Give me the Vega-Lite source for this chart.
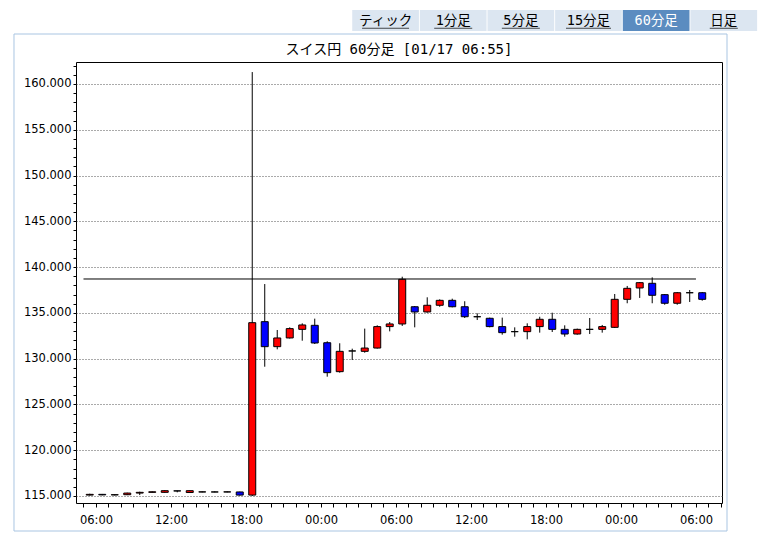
{
  "$schema": "https://vega.github.io/schema/vega-lite/v6.json",
  "width": 646,
  "height": 441,
  "autosize": "none",
  "padding": {"left": 76, "top": 62, "right": 48, "bottom": 41},
  "background": "white",
  "config": {"view": {"stroke": "#000", "strokeWidth": 1}},
  "title": {
    "text": "スイス円 60分足 [01/17 06:55]",
    "font": "DejaVu Sans Mono, Noto Sans CJK JP",
    "fontSize": 14,
    "fontWeight": "normal",
    "color": "#000",
    "anchor": "middle",
    "frame": "group",
    "offset": 5,
    "dy": 52
  },
  "layer": [
    {
      "data": {"values": [{}]},
      "mark": {"type": "rect", "filled": false, "color": "#a9c5e2", "strokeWidth": 1},
      "encoding": {
        "x": {"datum": 0, "type": "quantitative", "scale": {"domain": [0.086957, 0.992987], "nice": false, "zero": false}, "axis": null},
        "x2": {"datum": 1},
        "y": {"datum": 0, "type": "quantitative", "scale": {"domain": [0.056338, 0.943662], "nice": false, "zero": false}, "axis": null},
        "y2": {"datum": 1}
      }
    },
    {
      "data": {"values": [
        {"t": "2015-01-15T05:00", "o": 115.10, "h": 115.25, "l": 115.05, "c": 115.18},
        {"t": "2015-01-15T06:00", "o": 115.18, "h": 115.22, "l": 115.08, "c": 115.12},
        {"t": "2015-01-15T07:00", "o": 115.12, "h": 115.18, "l": 115.06, "c": 115.14},
        {"t": "2015-01-15T08:00", "o": 115.14, "h": 115.36, "l": 115.10, "c": 115.32},
        {"t": "2015-01-15T09:00", "o": 115.32, "h": 115.47, "l": 115.10, "c": 115.40},
        {"t": "2015-01-15T10:00", "o": 115.40, "h": 115.50, "l": 115.38, "c": 115.46},
        {"t": "2015-01-15T11:00", "o": 115.40, "h": 115.62, "l": 115.36, "c": 115.58},
        {"t": "2015-01-15T12:00", "o": 115.56, "h": 115.58, "l": 115.40, "c": 115.55},
        {"t": "2015-01-15T13:00", "o": 115.38, "h": 115.60, "l": 115.35, "c": 115.58},
        {"t": "2015-01-15T14:00", "o": 115.44, "h": 115.50, "l": 115.40, "c": 115.45},
        {"t": "2015-01-15T15:00", "o": 115.44, "h": 115.50, "l": 115.40, "c": 115.44},
        {"t": "2015-01-15T16:00", "o": 115.44, "h": 115.50, "l": 115.40, "c": 115.45},
        {"t": "2015-01-15T17:00", "o": 115.44, "h": 115.47, "l": 115.05, "c": 115.10},
        {"t": "2015-01-15T18:00", "o": 115.10, "h": 161.30, "l": 115.00, "c": 133.93},
        {"t": "2015-01-15T19:00", "o": 134.04, "h": 138.15, "l": 129.12, "c": 131.31},
        {"t": "2015-01-15T20:00", "o": 131.31, "h": 133.13, "l": 131.02, "c": 132.26},
        {"t": "2015-01-15T21:00", "o": 132.26, "h": 133.42, "l": 132.20, "c": 133.28},
        {"t": "2015-01-15T22:00", "o": 133.20, "h": 133.86, "l": 131.96, "c": 133.68},
        {"t": "2015-01-15T23:00", "o": 133.64, "h": 134.37, "l": 131.60, "c": 131.71},
        {"t": "2015-01-16T00:00", "o": 131.74, "h": 131.90, "l": 128.03, "c": 128.47},
        {"t": "2015-01-16T01:00", "o": 128.58, "h": 131.68, "l": 128.47, "c": 130.80},
        {"t": "2015-01-16T02:00", "o": 130.84, "h": 131.09, "l": 129.85, "c": 130.84},
        {"t": "2015-01-16T03:00", "o": 130.80, "h": 133.28, "l": 130.65, "c": 131.16},
        {"t": "2015-01-16T04:00", "o": 131.16, "h": 133.64, "l": 131.10, "c": 133.50},
        {"t": "2015-01-16T05:00", "o": 133.50, "h": 134.00, "l": 132.98, "c": 133.79},
        {"t": "2015-01-16T06:00", "o": 133.79, "h": 138.95, "l": 133.57, "c": 138.67},
        {"t": "2015-01-16T07:00", "o": 135.67, "h": 135.75, "l": 133.42, "c": 135.10},
        {"t": "2015-01-16T08:00", "o": 135.10, "h": 136.70, "l": 135.02, "c": 135.83},
        {"t": "2015-01-16T09:00", "o": 135.83, "h": 136.48, "l": 135.67, "c": 136.37},
        {"t": "2015-01-16T10:00", "o": 136.37, "h": 136.55, "l": 135.60, "c": 135.67},
        {"t": "2015-01-16T11:00", "o": 135.67, "h": 136.27, "l": 134.44, "c": 134.58},
        {"t": "2015-01-16T12:00", "o": 134.58, "h": 134.95, "l": 134.22, "c": 134.58},
        {"t": "2015-01-16T13:00", "o": 134.41, "h": 134.48, "l": 133.42, "c": 133.50},
        {"t": "2015-01-16T14:00", "o": 133.50, "h": 134.48, "l": 132.62, "c": 132.84},
        {"t": "2015-01-16T15:00", "o": 132.95, "h": 133.42, "l": 132.40, "c": 132.95},
        {"t": "2015-01-16T16:00", "o": 132.95, "h": 133.86, "l": 132.11, "c": 133.50},
        {"t": "2015-01-16T17:00", "o": 133.50, "h": 134.58, "l": 132.84, "c": 134.30},
        {"t": "2015-01-16T18:00", "o": 134.30, "h": 135.02, "l": 132.91, "c": 133.20},
        {"t": "2015-01-16T19:00", "o": 133.20, "h": 133.64, "l": 132.40, "c": 132.69},
        {"t": "2015-01-16T20:00", "o": 132.69, "h": 133.28, "l": 132.62, "c": 133.20},
        {"t": "2015-01-16T21:00", "o": 133.20, "h": 134.44, "l": 132.69, "c": 133.20},
        {"t": "2015-01-16T22:00", "o": 133.20, "h": 133.68, "l": 132.84, "c": 133.50},
        {"t": "2015-01-16T23:00", "o": 133.42, "h": 137.06, "l": 133.35, "c": 136.48},
        {"t": "2015-01-17T00:00", "o": 136.48, "h": 137.94, "l": 136.05, "c": 137.68},
        {"t": "2015-01-17T01:00", "o": 137.72, "h": 138.37, "l": 136.63, "c": 138.30},
        {"t": "2015-01-17T02:00", "o": 138.23, "h": 138.88, "l": 136.05, "c": 136.92},
        {"t": "2015-01-17T03:00", "o": 136.99, "h": 137.06, "l": 135.89, "c": 136.05},
        {"t": "2015-01-17T04:00", "o": 136.05, "h": 137.28, "l": 135.89, "c": 137.20},
        {"t": "2015-01-17T05:00", "o": 137.20, "h": 137.50, "l": 136.19, "c": 137.20},
        {"t": "2015-01-17T06:00", "o": 137.20, "h": 137.28, "l": 136.33, "c": 136.48}
      ]},
      "encoding": {
        "x": {
          "field": "t", "type": "temporal",
          "scale": {"domain": [{"year": 2015, "month": 1, "date": 15, "hours": 4, "minutes": 24}, {"year": 2015, "month": 1, "date": 17, "hours": 8, "minutes": 5}], "nice": false, "padding": 0},
          "axis": {
            "orient": "bottom", "title": null,
            "tickCount": 52,
            "labelExpr": "hours(datum.value) % 6 === 0 ? timeFormat(datum.value, '%H:%M') : ''",
            "labelFont": "DejaVu Sans", "labelFontSize": 11.5, "labelColor": "#000",
            "labelPadding": 7, "labelOverlap": false, "labelFlush": false,
            "tickSize": 4, "tickColor": "#000", "tickWidth": 1,
            "domain": false, "grid": false
          }
        }
      },
      "layer": [
        {
          "mark": {"type": "rule", "color": "#000", "strokeWidth": 1, "xOffset": 6.25},
          "encoding": {
            "y": {
              "field": "l", "type": "quantitative",
              "scale": {"domain": [114.235, 162.4], "nice": false, "zero": false},
              "axis": {
                "orient": "left", "title": null, "tickCount": 100,
                "values": [115,116,117,118,119,120,121,122,123,124,125,126,127,128,129,130,131,132,133,134,135,136,137,138,139,140,141,142,143,144,145,146,147,148,149,150,151,152,153,154,155,156,157,158,159,160,161,162],
                "labelExpr": "datum.value % 5 === 0 ? format(datum.value, '.3f') : ''",
                "labelFont": "DejaVu Sans", "labelFontSize": 11.5, "labelColor": "#000",
                "labelPadding": 2, "labelOverlap": false, "labelFlush": false,
                "tickSize": 3, "tickColor": "#000", "tickWidth": 1,
                "domain": false,
                "grid": true, "gridColor": "#555", "gridDash": [1, 2], "gridWidth": 1,
                "gridOpacity": {"condition": {"test": "datum.value % 5 === 0", "value": 1}, "value": 0}
              }
            },
            "y2": {"field": "h"}
          }
        },
        {
          "mark": {"type": "bar", "stroke": "#000", "strokeWidth": 1, "xOffset": 6.25, "width": 7},
          "encoding": {
            "y": {"field": "o", "type": "quantitative"},
            "y2": {"field": "c"},
            "fill": {"condition": {"test": "datum.c >= datum.o", "value": "#ff0000"}, "value": "#0000ff"}
          }
        },
        {
          "data": {"values": [{"t0": "2015-01-15T05:00", "t1": "2015-01-17T06:00", "v": 138.7}]},
          "mark": {"type": "rule", "color": "#000", "strokeWidth": 1},
          "encoding": {
            "x": {"field": "t0", "type": "temporal"},
            "x2": {"field": "t1"},
            "y": {"field": "v", "type": "quantitative"}
          }
        }
      ]
    },
    {
      "data": {"values": [
        {"label": "ティック", "i": 0, "sel": false},
        {"label": "1分足", "i": 1, "sel": false},
        {"label": "5分足", "i": 2, "sel": false},
        {"label": "15分足", "i": 3, "sel": false},
        {"label": "60分足", "i": 4, "sel": true},
        {"label": "日足", "i": 5, "sel": false}
      ]},
      "encoding": {
        "x": {"field": "i", "type": "quantitative", "scale": {"domain": [-4.503, 4.9], "nice": false, "zero": false}, "axis": null}
      },
      "layer": [
        {
          "mark": {"type": "bar", "width": 66.7},
          "encoding": {
            "y": {"datum": 0, "type": "quantitative", "scale": {"domain": [-22.476, -1.476], "nice": false, "zero": false}, "axis": null},
            "y2": {"datum": 1},
            "color": {"condition": {"test": "datum.sel", "value": "#5b8cc0"}, "value": "#dce6f1"}
          }
        },
        {
          "mark": {"type": "text", "font": "DejaVu Sans Mono, Noto Sans CJK JP", "fontSize": 13.5, "baseline": "middle", "align": "center"},
          "encoding": {
            "y": {"datum": 0.48, "type": "quantitative"},
            "text": {"field": "label"},
            "color": {"condition": {"test": "datum.sel", "value": "#ffffff"}, "value": "#000000"}
          }
        },
        {
          "transform": [{"filter": "!datum.sel"}],
          "mark": {"type": "tick", "orient": "horizontal", "thickness": 1, "color": "#000"},
          "encoding": {
            "y": {"datum": 0.13, "type": "quantitative"},
            "size": {"condition": [{"test": "datum.label === 'ティック'", "value": 47}, {"test": "datum.label === '15分足'", "value": 45}, {"test": "datum.label === '日足'", "value": 28}], "value": 38}
          }
        }
      ]
    }
  ],
  "resolve": {"scale": {"x": "independent", "y": "independent"}}
}
